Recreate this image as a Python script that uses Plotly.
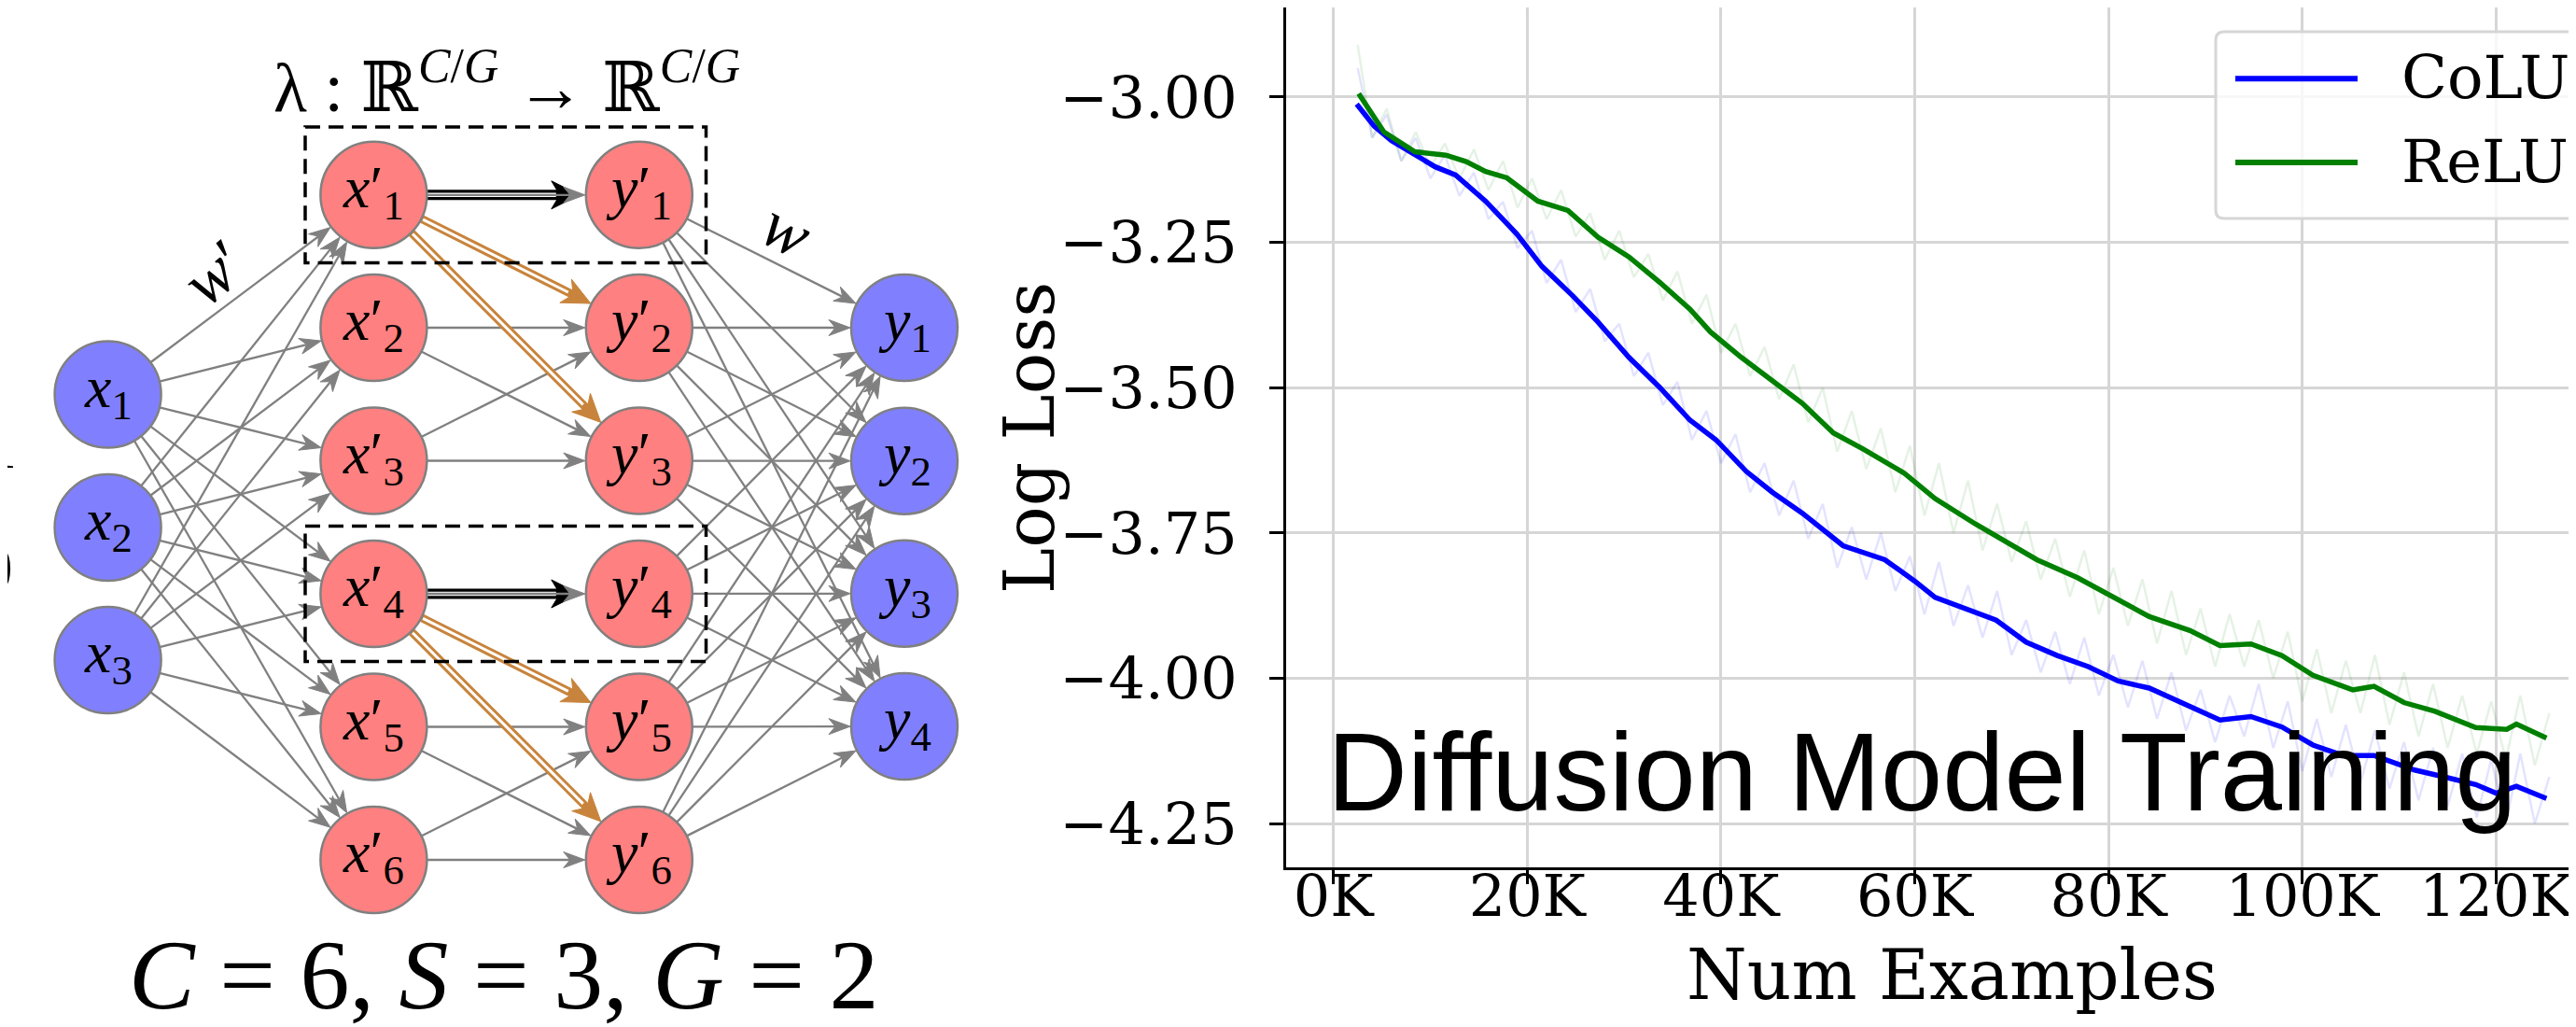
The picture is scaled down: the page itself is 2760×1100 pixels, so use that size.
import math
import plotly.graph_objects as go

# ---------------- chart data ----------------
colu_x = [2.4, 4.2, 6.0, 8.4, 10.5, 12.6, 15.7, 18.9, 21.5, 24.7, 27.3, 30.5, 33.7, 36.8, 39.5,
          42.6, 45.3, 48.4, 50.5, 52.6, 56.9, 60.0, 62.1, 65.3, 68.4, 71.5, 74.7, 77.9, 81.0,
          84.2, 87.4, 91.5, 94.7, 97.9, 101.1, 104.2, 107.4, 111.6, 114.7, 117.9, 120.0, 122.1, 125.2]
colu_y = [-3.012, -3.050, -3.075, -3.100, -3.120, -3.134, -3.179, -3.235, -3.291, -3.342, -3.387,
          -3.448, -3.500, -3.556, -3.590, -3.644, -3.680, -3.716, -3.745, -3.772, -3.796, -3.833,
          -3.861, -3.882, -3.900, -3.938, -3.961, -3.980, -4.005, -4.017, -4.042, -4.072, -4.066,
          -4.084, -4.115, -4.133, -4.133, -4.158, -4.170, -4.183, -4.198, -4.186, -4.207]

relu_x = [2.6, 5.2, 8.4, 11.6, 13.7, 15.7, 17.9, 21.1, 24.2, 27.3, 30.5, 33.7, 36.8, 38.9, 42.1,
          45.3, 48.4, 51.6, 54.7, 58.9, 62.1, 66.3, 69.4, 72.6, 76.8, 81.0, 84.2, 88.4, 91.5,
          94.7, 97.9, 101.1, 105.2, 107.4, 110.5, 113.7, 117.9, 121.1, 122.1, 125.2]
relu_y = [-2.994, -3.060, -3.094, -3.100, -3.111, -3.128, -3.139, -3.179, -3.195, -3.241, -3.275,
          -3.319, -3.365, -3.404, -3.448, -3.488, -3.527, -3.578, -3.606, -3.647, -3.691, -3.735,
          -3.766, -3.796, -3.827, -3.864, -3.894, -3.918, -3.944, -3.941, -3.961, -3.995, -4.020,
          -4.014, -4.042, -4.057, -4.085, -4.088, -4.079, -4.103]

raw_x = [round(2.5 + 1.5 * i, 1) for i in range(83)]
colu_raw = [-2.95, -3.07, -3.03, -3.11, -3.07, -3.14, -3.10, -3.17, -3.13, -3.21,
            -3.18, -3.26, -3.23, -3.32, -3.28, -3.37, -3.33, -3.42, -3.39, -3.48,
            -3.44, -3.53, -3.49, -3.59, -3.54, -3.63, -3.58, -3.68, -3.63, -3.72,
            -3.66, -3.76, -3.70, -3.81, -3.74, -3.83, -3.75, -3.85, -3.79, -3.89,
            -3.80, -3.91, -3.84, -3.93, -3.85, -3.96, -3.90, -3.99, -3.92, -4.01,
            -3.93, -4.03, -3.96, -4.05, -3.97, -4.07, -3.99, -4.09, -4.02, -4.11,
            -4.03, -4.10, -4.01, -4.12, -4.04, -4.16, -4.07, -4.17, -4.08, -4.18,
            -4.09, -4.19, -4.11, -4.21, -4.12, -4.22, -4.13, -4.24, -4.14, -4.25,
            -4.13, -4.25, -4.17]
relu_raw = [-2.91, -3.07, -3.02, -3.11, -3.06, -3.12, -3.08, -3.14, -3.09, -3.16,
            -3.11, -3.19, -3.14, -3.21, -3.16, -3.24, -3.20, -3.28, -3.23, -3.31,
            -3.27, -3.35, -3.30, -3.39, -3.34, -3.44, -3.39, -3.48, -3.43, -3.52,
            -3.46, -3.56, -3.50, -3.61, -3.54, -3.64, -3.57, -3.68, -3.60, -3.72,
            -3.63, -3.75, -3.66, -3.78, -3.70, -3.80, -3.73, -3.83, -3.76, -3.86,
            -3.78, -3.89, -3.81, -3.91, -3.83, -3.94, -3.85, -3.96, -3.88, -3.98,
            -3.89, -3.98, -3.90, -4.00, -3.92, -4.04, -3.95, -4.06, -3.97, -4.06,
            -3.96, -4.08, -3.99, -4.10, -4.01, -4.12, -4.03, -4.13, -4.04, -4.14,
            -4.03, -4.15, -4.06]

x_ticks = [0, 20, 40, 60, 80, 100, 120]
x_ticktext = ["0K", "20K", "40K", "60K", "80K", "100K", "120K"]
y_ticks = [-3.0, -3.25, -3.5, -3.75, -4.0, -4.25]
y_ticktext = ["\u22123.00", "\u22123.25", "\u22123.50", "\u22123.75", "\u22124.00", "\u22124.25"]

series_names = ["CoLU", "ReLU"]
series_colors = ["#0000ff", "#008000"]
raw_colors = ["rgba(0,0,255,0.11)", "rgba(0,128,0,0.10)"]

# ---------------- diagram layout (pixel positions) ----------------
R = 57
in_x, in_ys = 107.6, [414.5, 557, 699]
xp_x, xp_ys = 392.4, [200.8, 343, 485.5, 628, 770.5, 913]
yp_x = 676.8
out_x, out_ys = 961, [343, 485.7, 627.7, 770]
GRAY = "#808080"
ORANGE = "#c8843c"
BLUE_NODE = "#8080ff"
RED_NODE = "#ff8080"

shapes = []
annotations = []


def add_line(x0, y0, x1, y1, color, width):
    shapes.append(dict(type="line", xref="x2", yref="y2", x0=x0, y0=y0, x1=x1, y1=y1,
                       line=dict(color=color, width=width)))


def add_head(tx, ty, dx, dy, L, W, notch, color):
    px, py = -dy, dx
    bx, by = tx - L * dx, ty - L * dy
    nx, ny = tx - (L - notch) * dx, ty - (L - notch) * dy
    path = (f"M{tx:.2f},{ty:.2f} L{bx + W * px:.2f},{by + W * py:.2f} "
            f"L{nx:.2f},{ny:.2f} L{bx - W * px:.2f},{by - W * py:.2f} Z")
    shapes.append(dict(type="path", xref="x2", yref="y2", path=path,
                       fillcolor=color, line=dict(color=color, width=1)))


def unit(x0, y0, x1, y1):
    d = math.hypot(x1 - x0, y1 - y0)
    return (x1 - x0) / d, (y1 - y0) / d


def gray_arrow(x0, y0, x1, y1):
    dx, dy = unit(x0, y0, x1, y1)
    sx, sy = x0 + R * dx, y0 + R * dy
    tx, ty = x1 - (R + 1) * dx, y1 - (R + 1) * dy
    L, W, n = 23, 8.5, 7
    add_line(sx, sy, tx - (L - n) * dx, ty - (L - n) * dy, GRAY, 2.3)
    add_head(tx, ty, dx, dy, L, W, n, GRAY)


def orange_arrow(x0, y0, x1, y1):
    dx, dy = unit(x0, y0, x1, y1)
    sx, sy = x0 + R * dx, y0 + R * dy
    tx, ty = x1 - (R + 1) * dx, y1 - (R + 1) * dy
    L, W, n = 30, 14, 9
    ex, ey = tx - (L - n) * dx, ty - (L - n) * dy
    add_line(sx, sy, ex, ey, ORANGE, 9)
    add_line(sx + 2 * dx, sy + 2 * dy, ex - 6 * dx, ey - 6 * dy, "white", 3)
    add_head(tx, ty, dx, dy, L, W, n, ORANGE)


def black_arrow(x0, y, x1):
    sx = x0 + R
    tx = x1 - R - 7
    L, W, n = 30, 15, 9
    add_line(sx, y, tx - (L - n), y, "black", 11)
    add_line(sx, y, tx - (L - n) - 4, y, "white", 4.5)
    add_head(tx, y, 1, 0, L, W, n, "black")
    gray_arrow(x0, y, x1, y)


# layer 1: inputs -> x'
for iy in in_ys:
    for jy in xp_ys:
        gray_arrow(in_x, iy, xp_x, jy)

# layer 2: x' -> y' (groups of 3)
for g in (0, 3):
    a, b, c = xp_ys[g], xp_ys[g + 1], xp_ys[g + 2]
    gray_arrow(xp_x, b, yp_x, b)
    gray_arrow(xp_x, b, yp_x, c)
    gray_arrow(xp_x, c, yp_x, b)
    gray_arrow(xp_x, c, yp_x, c)
    black_arrow(xp_x, a, yp_x)
    orange_arrow(xp_x, a, yp_x, b)
    orange_arrow(xp_x, a, yp_x, c)

# layer 3: y' -> outputs
for iy in xp_ys:
    for jy in out_ys:
        gray_arrow(yp_x, iy, out_x, jy)

# dashed group boxes
for (y0, y1) in [(128, 273.6), (555.5, 700.5)]:
    shapes.append(dict(type="rect", xref="x2", yref="y2", x0=319, x1=748.5, y0=y0, y1=y1,
                       line=dict(color="black", width=3.5, dash="16px,9px"),
                       fillcolor="rgba(0,0,0,0)"))

serif = "Liberation Serif, Tinos, Times New Roman, DejaVu Serif, serif"


def node(cx, cy, fill):
    shapes.append(dict(type="circle", xref="x2", yref="y2", x0=cx - R, x1=cx + R,
                       y0=cy - R, y1=cy + R, fillcolor=fill,
                       line=dict(color=GRAY, width=2.5)))


def node_label(cx, cy, html):
    annotations.append(dict(xref="x2", yref="y2", x=cx, y=cy, text=html, showarrow=False,
                            xanchor="center", yanchor="middle", yshift=4,
                            font=dict(family=serif, size=64, color="black")))


for k, cy in enumerate(in_ys):
    node(in_x, cy, BLUE_NODE)
    node_label(in_x, cy, f"<i>x</i><sub>{k + 1}</sub>")
for k, cy in enumerate(xp_ys):
    node(xp_x, cy, RED_NODE)
    node_label(xp_x, cy, f"<i>x</i>\u2032<sub>{k + 1}</sub>")
    node(yp_x, cy, RED_NODE)
    node_label(yp_x, cy, f"<i>y</i>\u2032<sub>{k + 1}</sub>")
for k, cy in enumerate(out_ys):
    node(out_x, cy, BLUE_NODE)
    node_label(out_x, cy, f"<i>y</i><sub>{k + 1}</sub>")

annotations += [
    dict(xref="x2", yref="y2", x=535, y=80, showarrow=False, xanchor="center", yanchor="middle",
         text="\u03bb : \u211d<sup><i>C</i>/<i>G</i></sup> \u2192 \u211d<sup><i>C</i>/<i>G</i></sup>",
         font=dict(family=serif, size=74, color="black")),
    dict(xref="x2", yref="y2", x=222, y=284, showarrow=False, textangle=-40,
         text="<i>w</i>\u2032", font=dict(family=serif, size=72, color="black")),
    dict(xref="x2", yref="y2", x=835, y=238, showarrow=False, textangle=27,
         text="<i>w</i>", font=dict(family=serif, size=72, color="black")),
    dict(xref="x2", yref="y2", x=532, y=1036, showarrow=False, xanchor="center", yanchor="middle",
         text="<i>C</i> = 6, <i>S</i> = 3, <i>G</i> = 2",
         font=dict(family=serif, size=106, color="black")),
    dict(xref="x2", yref="y2", x=12, y=470, showarrow=False, xanchor="right", yanchor="middle",
         text="1", font=dict(family=serif, size=66, color="black")),
    dict(xref="x2", yref="y2", x=8, y=595, showarrow=False, xanchor="right", yanchor="middle",
         text=")", font=dict(family=serif, size=66, color="black")),
]

# ---------------- chart text / legend ----------------
dserif = "DejaVu Serif"
annotations += [
    dict(xref="x2", yref="y2", x=2083, y=1036, showarrow=False, xanchor="center", yanchor="middle",
         text="Num Examples", font=dict(family=dserif, size=74, color="black")),
    dict(xref="x2", yref="y2", x=1095, y=461, showarrow=False, xanchor="center", yanchor="middle",
         textangle=-90, text="Log Loss", font=dict(family=dserif, size=74, color="black")),
    dict(xref="x2", yref="y2", x=1412, y=818, showarrow=False, xanchor="left", yanchor="middle",
         text="Diffusion Model Training",
         font=dict(family="Liberation Sans, Arimo, Arial, sans-serif", size=119, color="black")),
]

lx0, ly0, lx1, ly1, rr = 2366, 26, 2800, 226, 9
shapes.append(dict(type="path", xref="x2", yref="y2",
                   path=(f"M{lx0 + rr},{ly0} L{lx1},{ly0} L{lx1},{ly1} L{lx0 + rr},{ly1} "
                         f"Q{lx0},{ly1} {lx0},{ly1 - rr} L{lx0},{ly0 + rr} Q{lx0},{ly0} {lx0 + rr},{ly0} Z"),
                   fillcolor="rgba(255,255,255,0.8)", line=dict(color="#d6d6d6", width=3)))
for k, (name, col) in enumerate(zip(series_names, series_colors)):
    ly = [76.3, 166][k]
    add_line(2387, ly, 2518, ly, col, 6)
    annotations.append(dict(xref="x2", yref="y2", x=2563, y=[75, 165][k], showarrow=False,
                            xanchor="left", yanchor="middle", text=name,
                            font=dict(family=dserif, size=64, color="black")))

# ---------------- figure ----------------
fig = go.Figure()
fig.add_trace(go.Scatter(x=raw_x, y=colu_raw, mode="lines", line=dict(color=raw_colors[0], width=2.5),
                         showlegend=False, hoverinfo="skip"))
fig.add_trace(go.Scatter(x=raw_x, y=relu_raw, mode="lines", line=dict(color=raw_colors[1], width=2.5),
                         showlegend=False, hoverinfo="skip"))
fig.add_trace(go.Scatter(x=colu_x, y=colu_y, mode="lines", name=series_names[0],
                         line=dict(color=series_colors[0], width=5.5), showlegend=False))
fig.add_trace(go.Scatter(x=relu_x, y=relu_y, mode="lines", name=series_names[1],
                         line=dict(color=series_colors[1], width=5.5), showlegend=False))
fig.add_trace(go.Scatter(x=[None], y=[None], xaxis="x2", yaxis="y2", showlegend=False,
                         hoverinfo="skip"))

tickfont = dict(family=dserif, size=62, color="black")
fig.update_layout(
    width=2760, height=1100,
    margin=dict(l=0, r=0, t=0, b=0),
    paper_bgcolor="white", plot_bgcolor="rgba(0,0,0,0)",
    showlegend=False,
    xaxis=dict(domain=[1370 / 2760, 1.0], range=[-4.884, 129.02], anchor="y",
               tickvals=x_ticks, ticktext=x_ticktext, tickfont=tickfont,
               ticks="outside", ticklen=15, tickwidth=3, tickcolor="black",
               showline=True, linecolor="black", linewidth=3, mirror=False,
               showgrid=True, gridcolor="#d6d6d6", gridwidth=2.5, zeroline=False,
               ticklabelstandoff=-40),
    yaxis=dict(domain=[179 / 1100, 1.0], range=[-4.3255, -2.8458], anchor="x",
               tickvals=y_ticks, ticktext=y_ticktext, tickfont=tickfont,
               ticks="outside", ticklen=15, tickwidth=3, tickcolor="black",
               showline=True, linecolor="black", linewidth=3, mirror=False,
               showgrid=True, gridcolor="#d6d6d6", gridwidth=2.5, zeroline=False,
               ticklabelstandoff=22),
    xaxis2=dict(domain=[0, 1], range=[0, 2760], anchor="y2", visible=False, fixedrange=True),
    yaxis2=dict(domain=[0, 1], range=[1100, 0], anchor="x2", visible=False, fixedrange=True),
    shapes=shapes,
    annotations=annotations,
)

fig.write_html("out.html")
